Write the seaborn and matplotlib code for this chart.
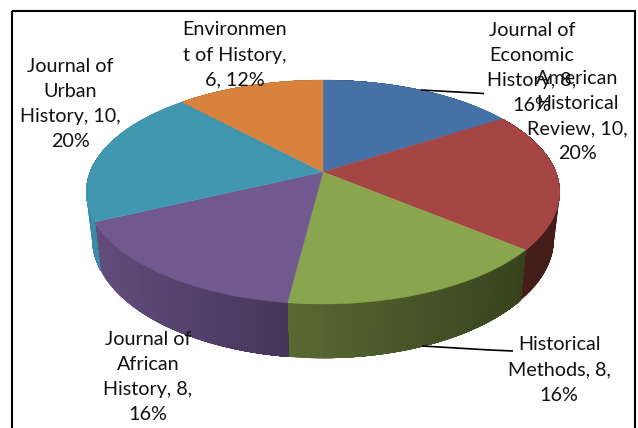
import numpy as np
import matplotlib
matplotlib.use("Agg")
import matplotlib.pyplot as plt
from matplotlib.patches import Polygon, Rectangle
from matplotlib.colors import to_rgb
import seaborn as sns

names = ["Journal of Economic History", "American Historical Review", "Historical Methods",
         "Journal of African History", "Journal of Urban History", "Environment of History"]
values = [8, 10, 8, 8, 10, 6]
labels = ["Journal of\nEconomic\nHistory, 8,\n16%", "American\nHistorical\nReview, 10,\n20%",
          "Historical\nMethods, 8,\n16%", "Journal of\nAfrican\nHistory, 8,\n16%",
          "Journal of\nUrban\nHistory, 10,\n20%", "Environmen\nt of History,\n6, 12%"]
top_colors = ["#4571A6", "#A64644", "#89A54E", "#71588F", "#4197AF", "#D9823D"]
side_left = ["#34557D", "#47201E", "#586A32", "#624C7C", "#3B8CA6", "#A8652F"]
side_right = ["#34557D", "#431C1A", "#38431E", "#46355A", "#3A86A0", "#A8652F"]

sns.set_theme(style="white")
plt.rcParams["font.family"] = ["Lato", "DejaVu Sans"]

fig = plt.figure(figsize=(6.38, 4.28), dpi=100, facecolor="white")
ax = fig.add_axes([0, 0, 1, 1])
wedges, _ = ax.pie(values, startangle=90, counterclock=False, colors=sns.color_palette(top_colors))
thetas = [(w.theta1, w.theta2) for w in wedges]
for w in wedges:
    w.remove()
ax.set_aspect("auto")
ax.set_xlim(0, 638)
ax.set_ylim(428, 0)
ax.axis("off")

CX, CY, A, B, K = 323.0, 172.0, 108.4, 233.0, 0.1786

def top_pt(deg):
    t = np.radians(deg)
    u, v = np.cos(t), np.sin(t)
    d = 1 + K * v
    return CX + B * u / d, CY - A * v / d

def bottom_pt(deg):
    x, y = top_pt(deg)
    return CX + 0.975 * (x - CX), CY + 45 + 1.07 * (y - CY)

# sides: each strip reaches over the rest of its slice and the next strip paints
# over it, so no seams show between strips
for (t1, t2), cl, cr in zip(thetas, side_left, side_right):
    grid = np.linspace(t1, t2, 40)
    xs_mid = [top_pt(a)[0] for a in grid]
    lo, hi = min(xs_mid), max(xs_mid)
    for i in range(len(grid) - 1):
        span = grid[i:]
        xm = top_pt((grid[i] + grid[i + 1]) / 2)[0]
        f = (xm - lo) / max(hi - lo, 1e-6)
        col = tuple((1 - f) * np.array(to_rgb(cl)) + f * np.array(to_rgb(cr)))
        pts = [top_pt(a) for a in span] + [bottom_pt(a) for a in span[::-1]]
        ax.add_patch(Polygon(pts, closed=True, facecolor=col, edgecolor="none", lw=0, zorder=2))

for (t1, t2), c in zip(thetas, top_colors):
    rim = [top_pt(a) for a in np.linspace(t1, t2, 80)]
    ax.add_patch(Polygon([(CX, CY)] + rim, closed=True, facecolor=c, edgecolor=c, lw=0.3, zorder=3))

ax.plot([421, 484], [90, 93.5], color="black", lw=1.2, zorder=4, solid_capstyle="butt")
ax.plot([422, 490, 513], [346, 350, 351], color="black", lw=1.2, zorder=4, solid_capstyle="butt")

label_pos = [(532, 68), (577, 116), (559, 370), (148, 377), (70, 104), (235, 55)]
for s, (x, y) in zip(labels, label_pos):
    ax.text(x, y, s, ha="center", va="center", fontsize=14.2, color="#111111",
            linespacing=1.58, zorder=5, multialignment="center")

ax.add_patch(Rectangle((12, 11), 623, 440, fill=False, edgecolor="black", lw=1.5, zorder=6, clip_on=True))

fig.savefig("out.png", dpi=100, facecolor="white")
